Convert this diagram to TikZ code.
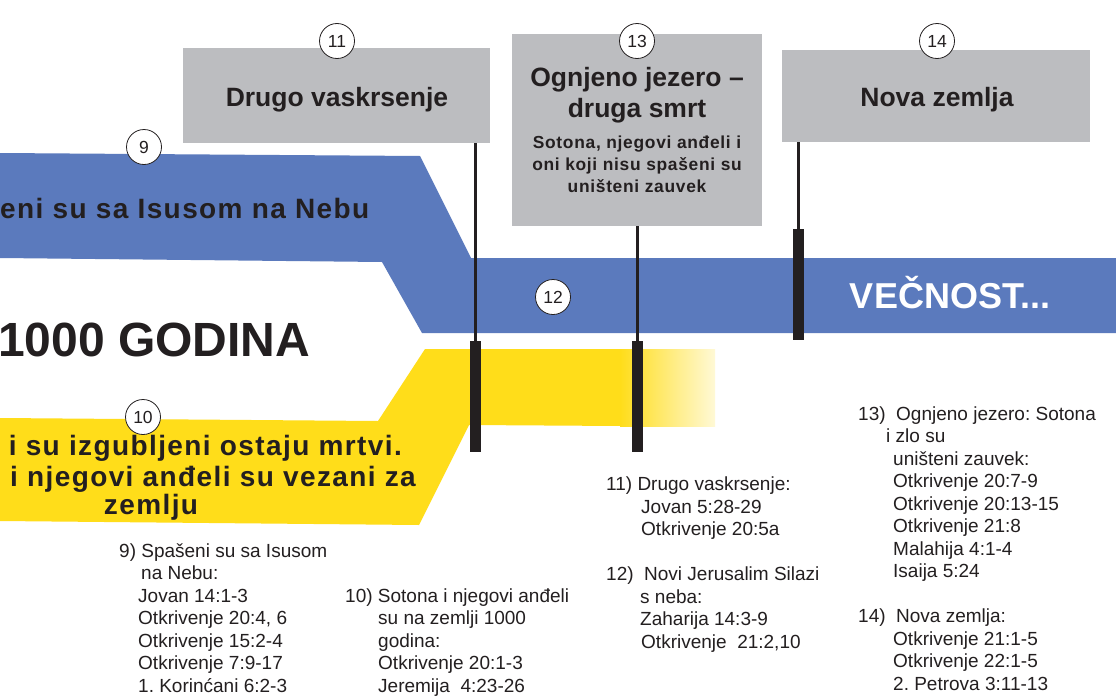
\documentclass[tikz,border=0pt]{standalone}
\usepackage{fontspec}
\setmainfont{Liberation Sans}
\newfontfamily\bandfont{Liberation Sans}[LetterSpace=5]
\newfontfamily\subfont{Liberation Sans}[LetterSpace=4]
\definecolor{bandblue}{RGB}{91,122,189}
\definecolor{boxgray}{RGB}{188,189,192}
\definecolor{bandyellow}{RGB}{255,221,26}
\definecolor{ink}{RGB}{35,31,32}
\frenchspacing
\begin{document}
\begin{tikzpicture}[x=1pt,y=-1pt,
  numcircle/.style={circle, draw=ink, line width=0.8pt, fill=white, inner sep=0pt, minimum size=35pt, text=ink, font=\fontsize{17.5}{17.5}\selectfont},
  graybox/.style={rectangle, fill=boxgray, inner sep=0pt},
  titletext/.style={text=ink, inner sep=0pt, font=\bfseries\fontsize{26.5}{31}\selectfont, align=center},
  subtitletext/.style={text=ink, inner sep=0pt, font=\subfont\bfseries\fontsize{17.4}{22}\selectfont, align=center},
  bandtext/.style={text=ink, inner sep=0pt, font=\bandfont\bfseries\fontsize{28}{30}\selectfont},
  stem/.style={draw=ink, line width=2.5pt},
  barbox/.style={rectangle, fill=ink, inner sep=0pt, minimum width=11pt, minimum height=111pt},
  refs/.style={text=ink, inner sep=0pt, align=left, anchor=base west, font=\fontsize{19}{22.5}\selectfont}
]
\useasboundingbox (0,0) rectangle (1116,696);
\fill[white] (0,0) rectangle (1116,696);

% blue band
\fill[bandblue] (0,153) -- (420,156) -- (471,258) -- (1116,258) -- (1116,333) -- (422,333) -- (382,262) -- (0,258) -- cycle;
% yellow band
\fill[bandyellow] (0,418) -- (378,421) -- (425,349) -- (621,349) -- (621,426) -- (469,425) -- (419,525) -- (0,521) -- cycle;
\shade[left color=bandyellow, right color=bandyellow!18!white] (620,349) rectangle (715,426);

% gray boxes
\node[graybox, minimum width=307pt, minimum height=95pt] (b11) at (336.5,95.5) {};
\node[graybox, minimum width=250pt, minimum height=192pt] (b13) at (637,130) {};
\node[graybox, minimum width=308pt, minimum height=92pt] (b14) at (936,96) {};

% bars
\node[barbox] (bar11) at (475.5,396.5) {};
\node[barbox] (bar13) at (637.5,396.5) {};
\node[barbox] (bar14) at (798.5,284.5) {};

% stems
\draw[stem] (b11.south -| bar11.north) -- (bar11.north);
\draw[stem] (b13.south -| bar13.north) -- (bar13.north);
\draw[stem] (b14.south -| bar14.north) -- (bar14.north);

% box texts (base anchor = baseline of last line)
\node[titletext, anchor=base] (t11) at (337,106) {Drugo vaskrsenje};
\node[titletext, anchor=base] (t13) at (637,117) {Ognjeno jezero –\\druga smrt};
\node[subtitletext, anchor=base] (s13) at (637,192) {Sotona, njegovi anđeli i\\oni koji nisu spašeni su\\uništeni zauvek};
\node[titletext, anchor=base] (t14) at (937,106) {Nova zemlja};

% band texts
\node[bandtext, anchor=base west] (t9) at (0,218) {eni su sa Isusom na Nebu};
\node[text=ink, inner sep=0pt, font=\bfseries\fontsize{48}{50}\selectfont, anchor=base west] (tmil) at (-2,356) {1000 GODINA};
\node[bandtext, anchor=base east] (t10a) at (402,455) {i su izgubljeni ostaju mrtvi.};
\node[bandtext, anchor=base east] (t10b) at (416,486) {i njegovi anđeli su vezani za};
\node[bandtext, anchor=base] (t10c) at (151,514) {zemlju};
\node[text=white, inner sep=0pt, font=\bfseries\fontsize{36}{38}\selectfont, anchor=base] (tvec) at (950,308) {VEČNOST...};

% circles
\node[numcircle] (c9) at (144,147) {9};
\node[numcircle] (c10) at (143,417) {10};
\node[numcircle] (c11) at (337,41) {11};
\node[numcircle] (c12) at (553,297) {12};
\node[numcircle] (c13) at (637,41) {13};
\node[numcircle] (c14) at (937,41) {14};

% reference columns (base anchor = baseline of last line)
\node[refs] (r9) at (119,692) {9) Spašeni su sa Isusom\\\hspace*{22pt}na Nebu:\\\hspace*{19pt}Jovan 14:1-3\\\hspace*{19pt}Otkrivenje 20:4, 6\\\hspace*{19pt}Otkrivenje 15:2-4\\\hspace*{19pt}Otkrivenje 7:9-17\\\hspace*{19pt}1. Korinćani 6:2-3};
\node[refs] (r10) at (345,692) {10) Sotona i njegovi anđeli\\\hspace*{33pt}su na zemlji 1000\\\hspace*{33pt}godina:\\\hspace*{33pt}Otkrivenje 20:1-3\\\hspace*{33pt}Jeremija\ \ 4:23-26};
\node[refs] (r11) at (606,648) {11) Drugo vaskrsenje:\\\hspace*{35pt}Jovan 5:28-29\\\hspace*{35pt}Otkrivenje 20:5a\\[22.5pt]12)\ \ Novi Jerusalim Silazi\\\hspace*{34pt}s neba:\\\hspace*{34pt}Zaharija 14:3-9\\\hspace*{35pt}Otkrivenje\ \ 21:2,10};
\node[refs] (r13) at (858,690) {13)\ \ Ognjeno jezero: Sotona\\\hspace*{28pt}i zlo su\\\hspace*{35pt}uništeni zauvek:\\\hspace*{35pt}Otkrivenje 20:7-9\\\hspace*{35pt}Otkrivenje 20:13-15\\\hspace*{35pt}Otkrivenje 21:8\\\hspace*{35pt}Malahija 4:1-4\\\hspace*{35pt}Isaija 5:24\\[22.5pt]14)\ \ Nova zemlja:\\\hspace*{35pt}Otkrivenje 21:1-5\\\hspace*{35pt}Otkrivenje 22:1-5\\\hspace*{35pt}2. Petrova 3:11-13};
\end{tikzpicture}
\end{document}
